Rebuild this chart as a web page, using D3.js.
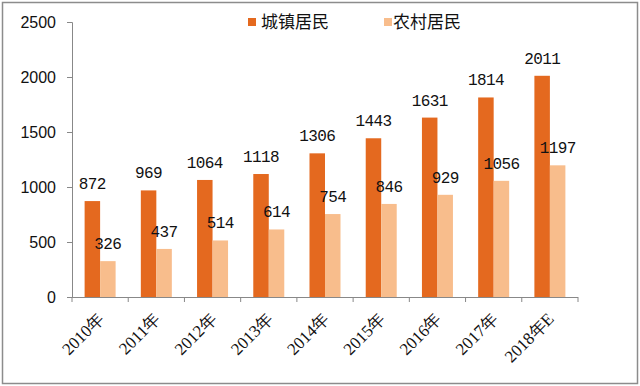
<!DOCTYPE html>
<html lang="zh">
<head>
<meta charset="utf-8">
<script src="https://cdn.jsdelivr.net/npm/d3@7"></script>
<style>
	body { margin: 0; background: #fff; }
	svg { display: block; }
</style>
</head>
<body>
<script>
	var w = 640;
	var h = 386;

	var years = ["2010年", "2011年", "2012年", "2013年", "2014年", "2015年", "2016年", "2017年", "2018年E"];
	var urban = [872, 969, 1064, 1118, 1306, 1443, 1631, 1814, 2011];
	var rural = [326, 437, 514, 614, 754, 846, 929, 1056, 1197];
	var seriesNames = ["城镇居民", "农村居民"];
	var colors = ["#e4691f", "#f8bd8c"];
	var yTicks = [0, 500, 1000, 1500, 2000, 2500];

	var svg = d3.select("body").append("svg")
		.attr("width", w)
		.attr("height", h);

	// outer frame
	svg.append("rect")
		.attr("x", 2.5).attr("y", 2.5)
		.attr("width", w - 5).attr("height", h - 5)
		.attr("fill", "none")
		.attr("stroke", "#8c8c8c")
		.attr("stroke-width", 1.5);

	var x = d3.scaleBand().domain(years).range([72, 578]);
	var y = d3.scaleLinear().domain([0, 2500]).range([297, 22]);
	var barW = 15.5;

	// y axis
	var yAxis = svg.append("g")
		.attr("transform", "translate(72,0)")
		.call(d3.axisLeft(y).tickValues(yTicks).tickFormat(d3.format("d")).tickSize(5).tickPadding(11));
	yAxis.select(".domain").attr("stroke", "#888");
	yAxis.selectAll(".tick line").attr("stroke", "#888");
	yAxis.selectAll("text")
		.attr("fill", "#111")
		.style("font-family", "Liberation Sans, Arial, sans-serif")
		.style("font-size", "16px");

	// x axis line and ticks between categories
	svg.append("line")
		.attr("x1", 72).attr("x2", 578)
		.attr("y1", y(0) + 0.5).attr("y2", y(0) + 0.5)
		.attr("stroke", "#888");
	svg.selectAll(".xtick")
		.data(years)
		.enter().append("line")
		.attr("class", "xtick")
		.attr("x1", function(d) { return x(d) + x.bandwidth(); })
		.attr("x2", function(d) { return x(d) + x.bandwidth(); })
		.attr("y1", y(0)).attr("y2", y(0) + 5)
		.attr("stroke", "#888");
	svg.append("line")
		.attr("x1", 72).attr("x2", 72)
		.attr("y1", y(0)).attr("y2", y(0) + 5)
		.attr("stroke", "#888");

	svg.selectAll(".xlabel")
		.data(years)
		.enter().append("text")
		.attr("class", "xlabel")
		.attr("text-anchor", "end")
		.attr("transform", function(d) {
			var cx = x(d) + x.bandwidth() / 2 + 5;
			return "translate(" + cx + "," + (y(0) + 23) + ") rotate(-45)";
		})
		.style("font-family", "Liberation Serif, Times New Roman, serif")
		.style("font-size", "17px")
		.attr("fill", "#111")
		.text(function(d) { return d; });

	// bars
	var series = [urban, rural];
	series.forEach(function(vals, s) {
		svg.selectAll(".bar" + s)
			.data(vals)
			.enter().append("rect")
			.attr("class", "bar" + s)
			.attr("x", function(d, i) { return x(years[i]) + x.bandwidth() / 2 - barW + s * barW; })
			.attr("y", function(d) { return y(d); })
			.attr("width", barW)
			.attr("height", function(d) { return y(0) - y(d); })
			.attr("fill", colors[s]);

		svg.selectAll(".lbl" + s)
			.data(vals)
			.enter().append("text")
			.attr("class", "lbl" + s)
			.attr("text-anchor", "middle")
			.attr("x", function(d, i) { return x(years[i]) + x.bandwidth() / 2 - barW / 2 + s * barW; })
			.attr("y", function(d) { return y(d) - 12; })
			.style("font-family", "Liberation Mono, DejaVu Sans Mono, monospace")
			.style("font-size", "16px")
			.style("letter-spacing", "-0.6px")
			.attr("fill", "#111")
			.text(function(d) { return d; });
	});

	// legend
	var legX = [248, 384];
	var legT = [261, 393];
	seriesNames.forEach(function(name, s) {
		svg.append("rect")
			.attr("x", legX[s]).attr("y", 18)
			.attr("width", 8).attr("height", 8)
			.attr("fill", colors[s]);
		svg.append("text")
			.attr("x", legT[s]).attr("y", 28)
			.style("font-family", "Noto Sans CJK SC, sans-serif")
			.style("font-size", "17px")
			.attr("fill", "#111")
			.text(name);
	});
</script>
</body>
</html>
